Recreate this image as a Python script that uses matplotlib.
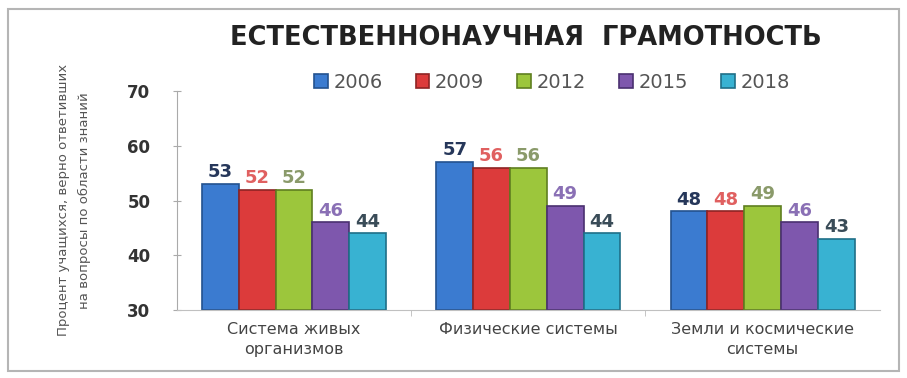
import matplotlib
matplotlib.use("Agg")
import matplotlib.pyplot as plt
import numpy as np
from matplotlib.patches import Rectangle

categories = ["Система живых\nорганизмов", "Физические системы", "Земли и космические\nсистемы"]
years = ["2006", "2009", "2012", "2015", "2018"]
values = {
    "2006": [53, 57, 48],
    "2009": [52, 56, 48],
    "2012": [52, 56, 49],
    "2015": [46, 49, 46],
    "2018": [44, 44, 43],
}
colors = ["#3b7bd0", "#dc3b3b", "#9cc63c", "#7e57ad", "#38b2d2"]
edge_colors = ["#23528f", "#8e2424", "#5f7f20", "#4a3070", "#1f6f88"]
label_colors = ["#26375a", "#e06060", "#8a9a6a", "#8a70b5", "#3a4c58"]

plt.rcParams['font.family'] = ['DejaVu Sans']

fig = plt.figure(figsize=(9.07, 3.78), dpi=100)
fig.patches.append(Rectangle((0.009, 0.018), 0.982, 0.958, transform=fig.transFigure,
                             fill=False, edgecolor="#b5b5b5", linewidth=1.5))
ax = fig.add_axes([0.195, 0.18, 0.775, 0.579])

x = np.arange(len(categories))
w = 0.157
for i, yr in enumerate(years):
    offs = (i - 2) * w
    ax.bar(x + offs, np.array(values[yr]) - 30, bottom=30, width=w,
           color=colors[i], edgecolor=edge_colors[i], linewidth=1.2, label=yr)
    for xi, v in zip(x + offs, values[yr]):
        ax.text(xi, v + 0.5, str(v), ha="center", va="bottom", fontsize=13,
                fontweight="bold", color=label_colors[i])

ax.set_ylim(30, 70)
ax.set_xlim(-0.5, 2.5)
ax.set_yticks([30, 40, 50, 60, 70])
ax.set_yticklabels(["30", "40", "50", "60", "70"], fontsize=12, fontweight="bold", color="#333333")
ax.set_xticks(x)
ax.set_xticklabels(categories, fontsize=11.5, color="#444444", linespacing=1.35)
ax.set_xticks([0.5, 1.5], minor=True)
ax.tick_params(axis="x", which="major", length=0, pad=9)
ax.tick_params(axis="x", which="minor", length=4, color="#bbbbbb")
ax.tick_params(axis="y", length=6, direction="inout", color="#aaaaaa", pad=16)
for s in ["top", "right"]:
    ax.spines[s].set_visible(False)
ax.spines["left"].set_color("#aaaaaa")
ax.spines["bottom"].set_color("#c0c0c0")

fig.text(74 / 907, 0.47, "Процент учащихся, верно ответивших\nна вопросы по области знаний",
         rotation=90, ha="center", va="center", fontsize=9.5, color="#555555",
         linespacing=1.75, multialignment="center")

fig.text(526 / 907, 1 - 38 / 378, "ЕСТЕСТВЕННОНАУЧНАЯ  ГРАМОТНОСТЬ", ha="center", va="center",
         fontsize=18.5, fontweight="bold", color="#222222")
handles, labels = ax.get_legend_handles_labels()
fig.legend(handles, labels, loc="center", bbox_to_anchor=(552 / 907, 1 - 82 / 378), ncol=5,
           frameon=False, fontsize=14, handlelength=0.7, handleheight=0.7, handletextpad=0.3,
           columnspacing=1.7, labelcolor="#555555")

fig.savefig("out.png", dpi=100)
